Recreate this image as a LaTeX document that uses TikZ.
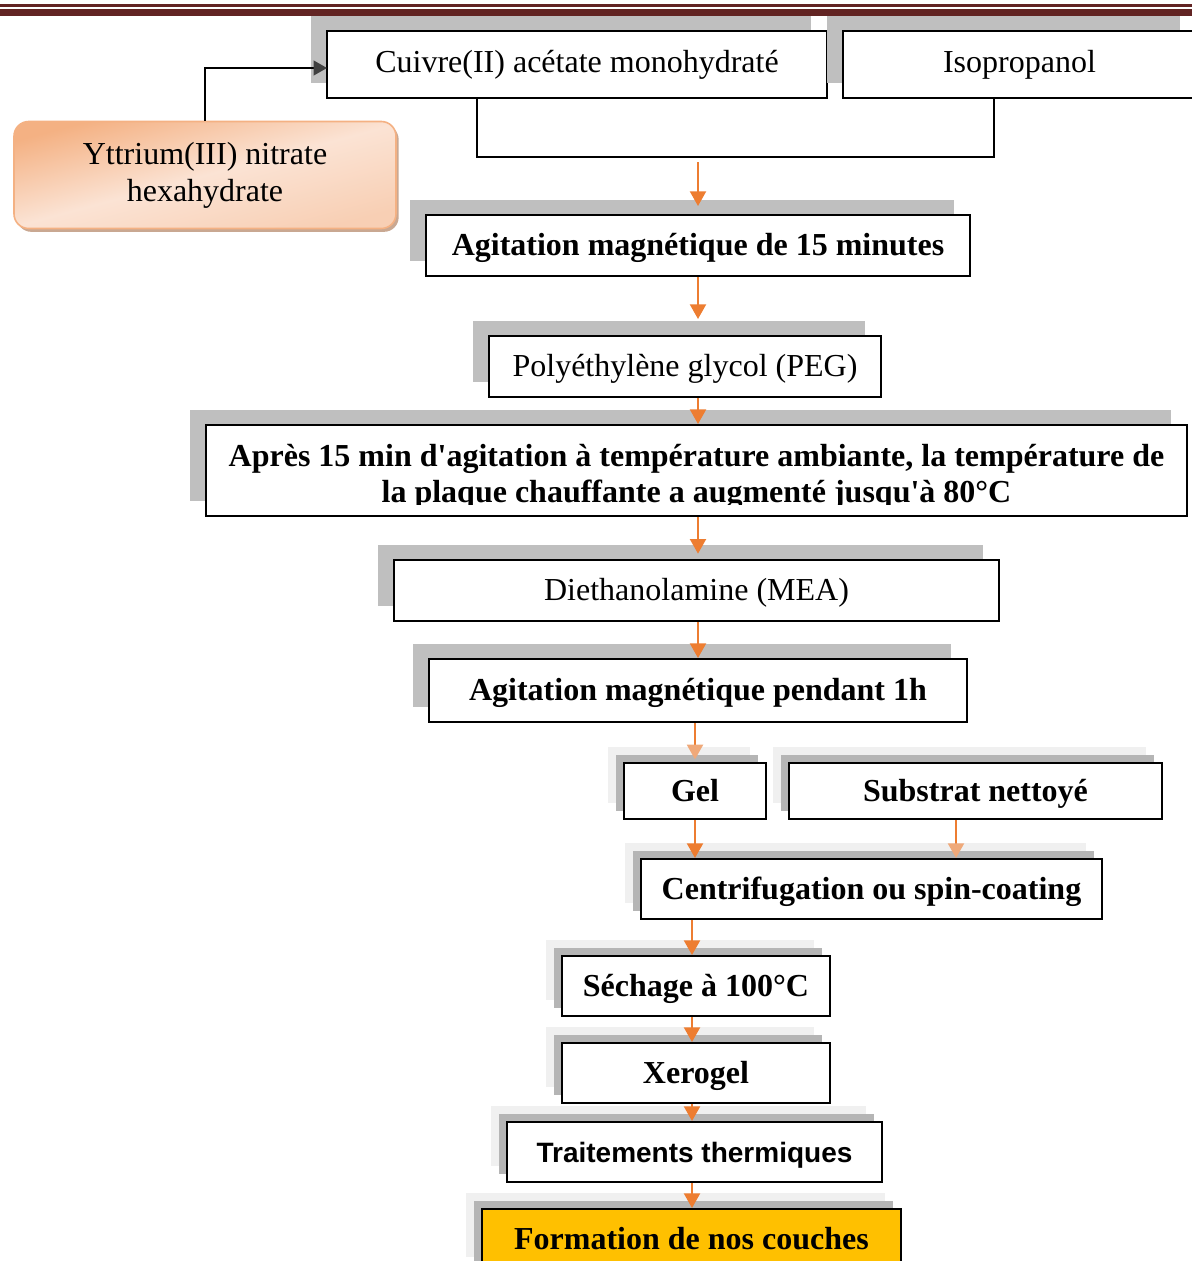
\documentclass[tikz,border=0pt]{standalone}
\usepackage{fontspec}
\setmainfont{Liberation Serif}[Ligatures=TeXOff]
\newfontfamily\sansfam{Liberation Sans}
\usetikzlibrary{arrows.meta,shadows,calc}
\definecolor{barred}{HTML}{622423}
\definecolor{arrorange}{HTML}{ED7D31}
\definecolor{paleorange}{HTML}{F4B183}
\definecolor{tiplight}{HTML}{EFA97A}
\definecolor{shgray}{HTML}{BFBFBF}
\definecolor{shdark}{HTML}{B5B5B5}
\definecolor{shlight}{HTML}{F0F0F0}
\definecolor{yelbox}{HTML}{FFC000}
\definecolor{ytop}{HTML}{F4B183}
\definecolor{ymid}{HTML}{FBE3D4}
\definecolor{ybot}{HTML}{F8CFB4}
\definecolor{yshadow}{HTML}{C9A892}
\definecolor{darktip}{HTML}{404040}
\tikzset{
  box/.style={draw=black, line width=1.5pt, fill=white, inner sep=0pt, align=center,
              text height=17pt, text depth=2pt,
              font=\fontsize{24}{28}\selectfont},
  bbox/.style={box, font=\fontsize{24}{28}\selectfont\bfseries},
  shA/.style={copy shadow={shadow xshift=-12pt, shadow yshift=11.25pt, fill=shgray, draw=none}},
  shB/.style={copy shadow={shadow xshift=-12pt, shadow yshift=12pt, fill=shlight, draw=none},
              copy shadow={shadow xshift=-6pt, shadow yshift=6pt, fill=shdark, draw=none}},
  arr/.style={draw=arrorange, line width=1.6pt, -{Triangle[width=12pt,length=11pt,fill=arrorange]}},
  arrl/.style={draw=arrorange, line width=1.6pt, -{Triangle[width=12pt,length=11pt,fill=tiplight,color=tiplight]}},
  conn/.style={draw=black, line width=1.5pt},
}
\begin{document}
\begin{tikzpicture}[x=0.75pt,y=-0.75pt]
\useasboundingbox (0,0) rectangle (1192,1261);
\clip (0,0) rectangle (1192,1261);

% top bars
\fill[barred] (0,3.5) rectangle (1192,6.5);
\fill[barred] (0,8.5) rectangle (1192,16);

% nodes
\node[box, shA, text depth=5pt, minimum width=375pt, minimum height=50.25pt] (cuivre) at (577,64.5) {Cuivre(II) acétate monohydraté};
\node[box, shA, text depth=5pt, minimum width=264.75pt, minimum height=50.25pt] (iso) at (1019.5,64.5) {Isopropanol};

\node[rounded corners=11pt, draw=paleorange, line width=1.2pt,
      top color=ytop, bottom color=ybot, middle color=ymid, shading angle=15,
      copy shadow={shadow xshift=2pt, shadow yshift=-2.5pt, fill=yshadow, draw=none},
      inner sep=0pt, align=center, font=\fontsize{24}{27.75}\selectfont,
      minimum width=286.5pt, minimum height=80.25pt] (ytt) at (205,175) {Yttrium(III) nitrate\\hexahydrate};

\node[bbox, shA, minimum width=408pt, minimum height=45.75pt] (agit15) at (698,245.5) {Agitation magnétique de 15 minutes};
\node[box, shA, minimum width=294pt, minimum height=45.75pt] (peg) at (685,366.5) {Polyéthylène glycol (PEG)};
\node[box, shA, minimum width=735.75pt, minimum height=68.25pt] (apres) at (696.5,470.5) {};
\begin{scope}
  \clip (206,425) rectangle (1187,504.5);
  \node[font=\fontsize{24}{28}\selectfont\bfseries, inner sep=0pt, anchor=base] (apresA) at (696.5,466)
    {Après 15 min d'agitation à température ambiante, la température de};
  \node[font=\fontsize{24}{28}\selectfont\bfseries, inner sep=0pt, anchor=base] (apresB) at (696.5,502)
    {la plaque chauffante a augmenté jusqu'à 80°C};
\end{scope}
\node[box, shA, minimum width=453.75pt, minimum height=45.75pt] (dea) at (696.5,590.5) {Diethanolamine (MEA)};
\node[bbox, shA, minimum width=403.5pt, minimum height=47.25pt] (agit1h) at (698,690.5) {Agitation magnétique pendant 1h};

\node[bbox, shB, minimum width=106.5pt, minimum height=42pt] (gel) at (695,791) {Gel};
\node[bbox, shB, minimum width=279.75pt, minimum height=42pt] (sub) at (975.5,791) {Substrat nettoyé};
\node[bbox, shB, minimum width=345.75pt, minimum height=45pt] (centri) at (871.5,889) {Centrifugation ou spin-coating};
\node[bbox, shB, minimum width=201pt, minimum height=45pt] (sech) at (696,986) {Séchage à 100°C};
\node[bbox, shB, minimum width=201pt, minimum height=45pt] (xero) at (696,1073) {Xerogel};
\node[box, shB, minimum width=281.25pt, minimum height=45pt, font=\sansfam\fontsize{21}{26}\selectfont\bfseries] (trait) at (694.5,1152) {Traitements thermiques};
\node[bbox, shB, text height=14pt, minimum width=314.25pt, minimum height=48pt, fill=yelbox] (form) at (691.5,1241) {Formation de nos couches};

% bracket joining the two reagents
\coordinate (bl) at (477,157);
\coordinate (br) at (994,157);
\draw[conn] (bl |- cuivre.south) -- (bl) -- (br) -- (br |- iso.south);
\coordinate (mix) at (698,162);
\coordinate (axA) at (698,0);
\coordinate (axB) at (692,0);
\coordinate (axS) at (956,0);
\coordinate (yin) at (327,68);

% yttrium connector
\draw[conn, -{Triangle[width=11pt,length=10pt,fill=darktip,color=darktip]}] (ytt.north) |- (yin);

% flow arrows
\draw[arr, shorten >=6pt] (mix) -- (axA |- agit15.north);
\draw[arr, shorten >=12pt] (axA |- agit15.south) -- (axA |- peg.north);
\draw[arr] (axA |- peg.south) -- (axA |- apres.north);
\draw[arr, shorten >=4pt] (axA |- apres.south) -- (axA |- dea.north);
\draw[arr] (axA |- dea.south) -- (axA |- agit1h.north);
\draw[arrl, shorten >=2pt] (gel.north |- agit1h.south) -- (gel.north);
\draw[arr] (gel.south) -- (gel.south |- centri.north);
\draw[arrl] (axS |- sub.south) -- (axS |- centri.north);
\draw[arr] (axB |- centri.south) -- (axB |- sech.north);
\draw[arr] (axB |- sech.south) -- (axB |- xero.north);
\draw[arr] (axB |- xero.south) -- (axB |- trait.north);
\draw[arr] (axB |- trait.south) -- (axB |- form.north);
\end{tikzpicture}
\end{document}
